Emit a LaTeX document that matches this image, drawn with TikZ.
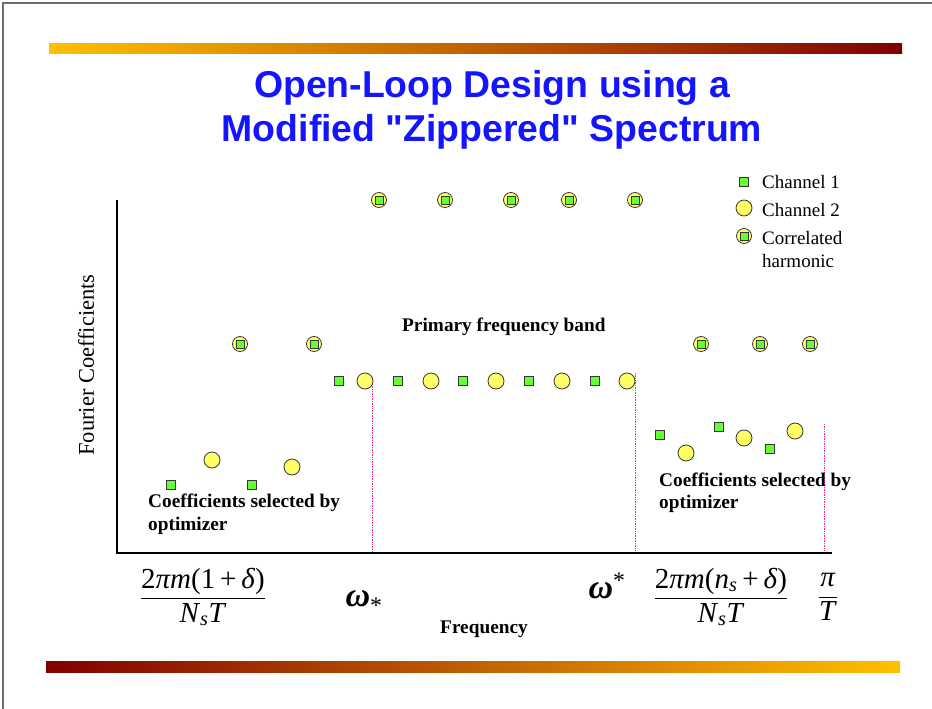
\documentclass[tikz,border=0pt]{standalone}
\usepackage{amsmath}
\usepackage{fontspec}
\setmainfont{Liberation Serif}
\newfontfamily\headfont{Liberation Sans}
\usetikzlibrary{positioning}
\definecolor{zpBlue}{RGB}{20,20,255}
\definecolor{zpGold}{RGB}{255,192,0}
\definecolor{zpRed}{RGB}{128,0,0}
\definecolor{zpGreen}{RGB}{102,255,51}
\definecolor{zpYellow}{RGB}{255,255,102}
\definecolor{zpEdge}{RGB}{55,55,55}
\definecolor{zpPink}{RGB}{240,40,140}
\definecolor{zpFrame}{RGB}{110,110,110}

\tikzset{
  ch1/.style={draw=zpEdge, fill=zpGreen, line width=0.8pt, minimum size=9pt, inner sep=0pt},
  ch2/.style={circle, draw=zpEdge, fill=zpYellow, line width=0.8pt, minimum size=16pt, inner sep=0pt},
  corr/.style={circle, draw=zpEdge, fill=zpYellow, line width=0.8pt, minimum size=15pt, inner sep=0pt,
    path picture={\draw[zpEdge, fill=zpGreen, line width=0.7pt]
      ([shift={(-4pt,-4pt)}]path picture bounding box.center) rectangle ++(8pt,8pt);}},
  note/.style={font=\fontsize{19.3}{23}\selectfont\bfseries, anchor=base west, inner sep=0pt},
  plain/.style={font=\fontsize{19}{23}\selectfont, anchor=base west, inner sep=0pt},
  headline/.style={font=\headfont\fontsize{37.4}{44}\selectfont\bfseries, text=zpBlue, anchor=base, inner sep=0pt},
  bound/.style={zpPink, densely dotted, line width=0.7pt}
}

\begin{document}
\begin{tikzpicture}[x=1pt, y=-1pt]
\useasboundingbox (0,0) rectangle (932,709);
% page frame
\draw[zpFrame, line width=1.4pt] (932,3) -- (3,3) -- (3,709);

% title bars
\shade[left color=zpGold, right color=zpRed] (49,44) rectangle (902,54);
\shade[left color=zpRed, right color=zpGold] (46,661) rectangle (900,672);

% title
\node[headline] (title1) at (492,97) {Open-Loop Design using a};
\node[headline] (title2) at (492,141) {Modified "Zippered" Spectrum};

% axes
\coordinate (ytop) at (117,200);
\coordinate (xend) at (832,553);
\draw[line width=2pt] (ytop) |- (xend);
\node[plain, font=\fontsize{22.5}{26}\selectfont, anchor=center, rotate=90] (ylab) at (86,365) {Fourier Coefficients};
\node[note, anchor=base] (xlab) at (484,633) {Frequency};

% band limits
\foreach \n/\x/\y in {a/372/384, b/635/373, c/824/424} {
  \coordinate (\n-top) at (\x,\y);
  \coordinate (\n-bot) at (\x,551);
  \draw[bound] (\n-top) -- (\n-bot);
}

% correlated harmonics
\foreach \x [count=\i] in {379,445,511,569,635}
  \node[corr] (hi\i) at (\x,200) {};
\foreach \x [count=\i] in {240,314,701,760,810}
  \node[corr] (mid\i) at (\x,344) {};

% primary band
\foreach \x [count=\i] in {339,398,463,529,595}
  \node[ch1] (pb-sq\i) at (\x,381) {};
\foreach \x [count=\i] in {365,431,496,562,627}
  \node[ch2] (pb-ci\i) at (\x,381) {};
\node[note] (pband) at (402,331) {Primary frequency band};

% optimizer picks, low side
\node[ch1] (lo-sq1) at (171,485) {};
\node[ch1] (lo-sq2) at (252,485) {};
\node[ch2] (lo-ci1) at (212,460) {};
\node[ch2] (lo-ci2) at (292,467) {};
\node[note] (lo-txt) at (148,507) {Coefficients selected by};
\node[note] (lo-txt2) at (148,530) {optimizer};

% optimizer picks, high side
\node[ch1] (up-sq1) at (660,435) {};
\node[ch1] (up-sq2) at (719,427) {};
\node[ch1] (up-sq3) at (770,449) {};
\node[ch2] (up-ci1) at (686,453) {};
\node[ch2] (up-ci2) at (744,438) {};
\node[ch2] (up-ci3) at (795,431) {};
\node[note] (up-txt) at (659,486) {Coefficients selected by};
\node[note] (up-txt2) at (659,508) {optimizer};

% legend
\node[ch1] (lg1) at (744,182) {};
\node[ch2] (lg2) at (744,208) {};
\node[corr] (lg3) at (744,236) {};
\node[plain] (lg1-t) at (762,188) {Channel 1};
\node[plain] (lg2-t) at (762,216) {Channel 2};
\node[plain] (lg3-t) at (762,244) {Correlated};
\node[plain] (lg3-t2) at (762,267) {harmonic};

% frequency ticks
\begin{scope}[font=\fontsize{29}{32}\selectfont]
\node (f-lo) at (203,597)
  {$\dfrac{\text{2\textit{πm}(1\,+\,\textit{δ})}}{\text{\textit{N}\textsubscript{\textit{s}}\textit{T}}}$};
\node[anchor=base, font=\fontsize{34}{36}\selectfont] (w-lo) at (364,606) {\textbf{\textit{ω}}\textsubscript{*}};
\node[anchor=base, font=\fontsize{34}{36}\selectfont] (w-hi) at (607,598) {\textbf{\textit{ω}}\textsuperscript{*}};
\node (f-hi) at (721,597)
  {$\dfrac{\text{2\textit{πm}(\textit{n}\textsubscript{\textit{s}}\,+\,\textit{δ})}}{\text{\textit{N}\textsubscript{\textit{s}}\textit{T}}}$};
\node (f-pi) at (828,597) {$\dfrac{\text{\textit{π}}}{\text{\textit{T}}}$};
\end{scope}
\end{tikzpicture}
\end{document}
